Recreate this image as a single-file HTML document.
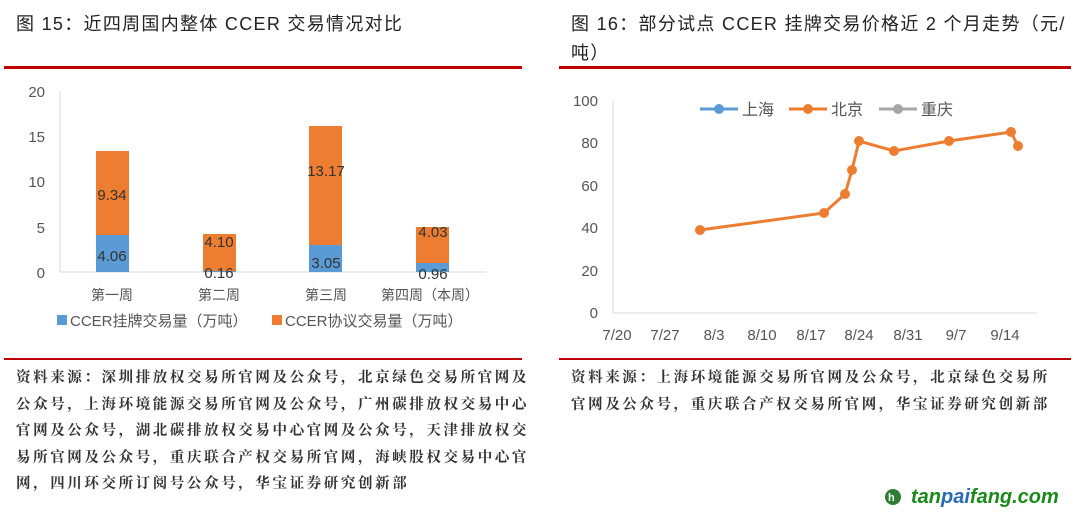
<!DOCTYPE html>
<html><head><meta charset="utf-8"><style>
body{margin:0;width:1080px;height:516px;background:#fff;position:relative;overflow:hidden;font-family:"Liberation Sans","Noto Serif CJK SC",serif;}
.t{position:absolute;color:#222;}
.h{font-size:18px;letter-spacing:1.3px;font-family:"Liberation Sans","Noto Sans CJK SC",sans-serif;}
.s{font-size:14.5px;line-height:26.5px;font-family:"Liberation Serif","Noto Serif CJK SC",serif;letter-spacing:2.6px;font-weight:bold;color:#333}
</style></head><body>
<div class="t h" style="left:16px;top:10px">图 15：近四周国内整体 CCER 交易情况对比</div>
<div class="t h" style="left:571px;top:10px;width:500px;line-height:29px">图 16：部分试点 CCER 挂牌交易价格近 2 个月走势（元/吨）</div>
<div style="position:absolute;left:4px;top:66px;width:518px;height:3px;background:#c00000"></div>
<div style="position:absolute;left:559px;top:66px;width:512px;height:3px;background:#c00000"></div>
<div style="position:absolute;left:4px;top:358px;width:518px;height:2px;background:#c00000"></div>
<div style="position:absolute;left:559px;top:358px;width:512px;height:2px;background:#c00000"></div>
<svg width="1080" height="516" style="position:absolute;left:0;top:0" font-family="Liberation Sans, Noto Sans CJK SC, sans-serif">
<g font-size="15" fill="#555" text-anchor="end">
<text x="45" y="97">20</text><text x="45" y="142">15</text><text x="45" y="187">10</text><text x="45" y="233">5</text><text x="45" y="278">0</text></g>
<line x1="60" y1="91" x2="60" y2="272" stroke="#d9d9d9"/>
<line x1="60" y1="272" x2="487" y2="272" stroke="#d9d9d9"/>
<rect x="96" y="235" width="33" height="37" fill="#5b9bd5"/><rect x="96" y="151" width="33" height="84" fill="#ed7d31"/>
<rect x="203" y="271" width="33" height="1" fill="#5b9bd5"/><rect x="203" y="234" width="33" height="37" fill="#ed7d31"/>
<rect x="309" y="245" width="33" height="27" fill="#5b9bd5"/><rect x="309" y="126" width="33" height="119" fill="#ed7d31"/>
<rect x="416" y="263" width="33" height="9" fill="#5b9bd5"/><rect x="416" y="227" width="33" height="36" fill="#ed7d31"/>
<g font-size="15" fill="#333" text-anchor="middle">
<text x="112" y="200">9.34</text><text x="112" y="261">4.06</text>
<text x="219" y="247">4.10</text><text x="219" y="278">0.16</text>
<text x="326" y="176">13.17</text><text x="326" y="268">3.05</text>
<text x="433" y="237">4.03</text><text x="433" y="279">0.96</text></g>
<g font-size="14" fill="#555" text-anchor="middle">
<text x="112" y="300">第一周</text><text x="219" y="300">第二周</text><text x="326" y="300">第三周</text><text x="430" y="300">第四周（本周）</text></g>
<rect x="57" y="315" width="10" height="10" fill="#5b9bd5"/><text x="70" y="326" font-size="15" fill="#555">CCER挂牌交易量（万吨）</text>
<rect x="272" y="315" width="10" height="10" fill="#ed7d31"/><text x="285" y="326" font-size="15" fill="#555">CCER协议交易量（万吨）</text>
<g font-size="15" fill="#555" text-anchor="end">
<text x="598" y="106">100</text><text x="598" y="148">80</text><text x="598" y="191">60</text><text x="598" y="233">40</text><text x="598" y="276">20</text><text x="598" y="318">0</text></g>
<line x1="613" y1="101" x2="613" y2="313" stroke="#d9d9d9"/>
<line x1="613" y1="313" x2="1037" y2="313" stroke="#d9d9d9"/>
<g font-size="15" fill="#555" text-anchor="middle">
<text x="617" y="340">7/20</text><text x="665" y="340">7/27</text><text x="714" y="340">8/3</text><text x="762" y="340">8/10</text><text x="811" y="340">8/17</text><text x="859" y="340">8/24</text><text x="908" y="340">8/31</text><text x="956" y="340">9/7</text><text x="1005" y="340">9/14</text></g>
<polyline points="700,230 824,213 845,194 852,170 859,141 894,151 949,141 1011,132 1018,146" fill="none" stroke="#ed7d31" stroke-width="3"/>
<g fill="#ed7d31"><circle cx="700" cy="230" r="5"/><circle cx="824" cy="213" r="5"/><circle cx="845" cy="194" r="5"/><circle cx="852" cy="170" r="5"/><circle cx="859" cy="141" r="5"/><circle cx="894" cy="151" r="5"/><circle cx="949" cy="141" r="5"/><circle cx="1011" cy="132" r="5"/><circle cx="1018" cy="146" r="5"/></g>
<line x1="700" y1="109" x2="738" y2="109" stroke="#5b9bd5" stroke-width="3"/><circle cx="719" cy="109" r="5" fill="#5b9bd5"/><text x="742" y="115" font-size="16" fill="#555">上海</text>
<line x1="789" y1="109" x2="827" y2="109" stroke="#ed7d31" stroke-width="3"/><circle cx="808" cy="109" r="5" fill="#ed7d31"/><text x="831" y="115" font-size="16" fill="#555">北京</text>
<line x1="879" y1="109" x2="917" y2="109" stroke="#a5a5a5" stroke-width="3"/><circle cx="898" cy="109" r="5" fill="#a5a5a5"/><text x="921" y="115" font-size="16" fill="#555">重庆</text>
<circle cx="893" cy="497" r="8" fill="#2e7d32"/><text x="888" y="501" font-size="11" fill="#fff" font-weight="bold">h</text>
<text x="911" y="503" font-size="20" font-weight="bold" font-style="italic" fill="#1a8a1a">tan<tspan fill="#2a6ab5">pai</tspan>fang.com</text>
</svg>
<div class="t s" style="left:16px;top:365px;width:515px">资料来源：深圳排放权交易所官网及公众号，北京绿色交易所官网及公众号，上海环境能源交易所官网及公众号，广州碳排放权交易中心官网及公众号，湖北碳排放权交易中心官网及公众号，天津排放权交易所官网及公众号，重庆联合产权交易所官网，海峡股权交易中心官网，四川环交所订阅号公众号，华宝证券研究创新部</div>
<div class="t s" style="left:571px;top:365px;width:482px">资料来源：上海环境能源交易所官网及公众号，北京绿色交易所官网及公众号，重庆联合产权交易所官网，华宝证券研究创新部</div>
</body></html>
